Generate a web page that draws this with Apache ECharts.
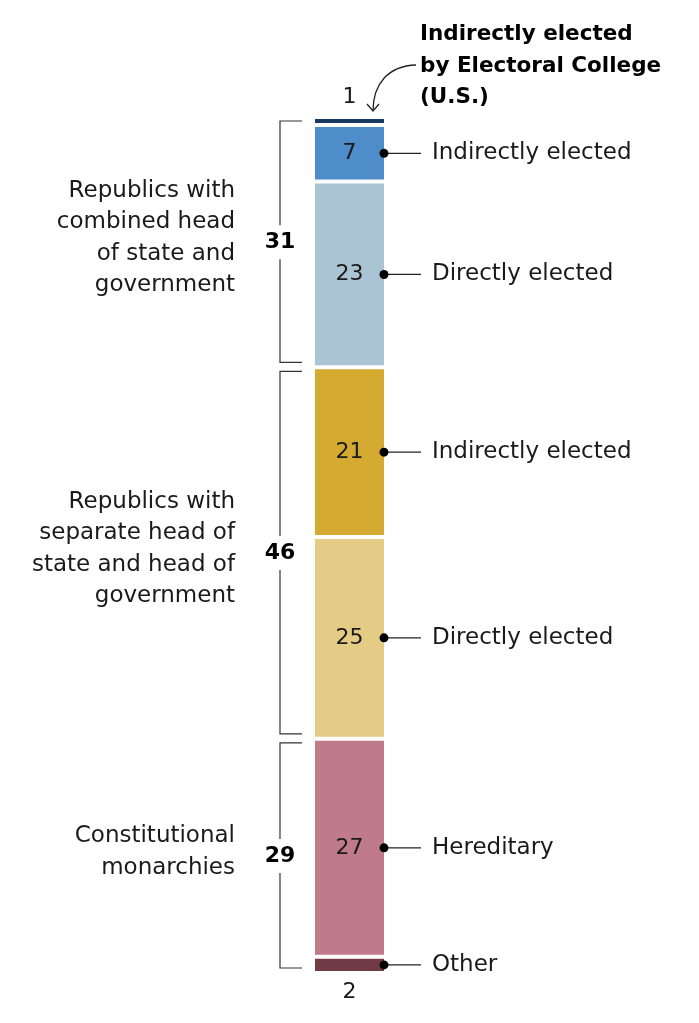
<!DOCTYPE html>
<html>
<head>
<meta charset="utf-8">
<script src="https://cdn.jsdelivr.net/npm/echarts@6/dist/echarts.min.js"></script>
<style>
  html, body { margin: 0; padding: 0; background: #fff; }
  #chart { width: 699px; height: 1023px; }
</style>
</head>
<body>
<div id="chart"></div>
<script>
// segments from top to bottom
var segmentNames = ['Indirectly elected by Electoral College (U.S.)', 'Indirectly elected', 'Directly elected',
  'Indirectly elected', 'Directly elected', 'Hereditary', 'Other'];
var segmentValues = [1, 7, 23, 21, 25, 27, 2];
var segmentColors = ['#173a5f', '#4f8cca', '#abc4d3', '#d4aa30', '#e4cb86', '#bf7b89', '#713b46'];

// groups on the left (how many segments each covers)
var groupNames = ['Republics with\ncombined head\nof state and\ngovernment',
  'Republics with\nseparate head of\nstate and head of\ngovernment',
  'Constitutional\nmonarchies'];
var groupCounts = [3, 2, 2];

var FONT = '"DejaVu Sans", sans-serif';
var TEXT = '#1a1a1a';

var chart = echarts.init(document.getElementById('chart'));

// cumulative positions
var starts = [], ends = [];
var acc = 0;
segmentValues.forEach(function (v) {
  starts.push(acc);
  acc += v;
  ends.push(acc);
});
var total = acc;

var barSeries = segmentValues.map(function (v, i) {
  var pos = 'inside', dist = 5;
  if (i === 0) { pos = 'top'; dist = 9; }
  if (i === segmentValues.length - 1) { pos = 'bottom'; dist = 8; }
  return {
    name: segmentNames[i],
    type: 'bar',
    stack: 'all',
    barWidth: 73,
    data: [v],
    itemStyle: { color: segmentColors[i], borderColor: '#fff', borderWidth: 2 },
    label: {
      show: true,
      position: pos,
      distance: dist,
      color: TEXT,
      fontFamily: FONT,
      fontSize: 22
    },
    silent: true
  };
});

// right side annotations (skip the top one, it has its own callout)
var noteData = [];
for (var i = 1; i < segmentValues.length; i++) {
  noteData.push([0, starts[i], ends[i], i]);
}

var groupData = [];
var k = 0;
groupCounts.forEach(function (c, gi) {
  var s = starts[k], e = ends[k + c - 1];
  groupData.push([0, s, e, gi, e - s]);
  k += c;
});

var option = {
  animation: false,
  grid: { left: 313, right: 313, top: 117, bottom: 50 },
  xAxis: { type: 'category', data: [''], show: false },
  yAxis: { type: 'value', min: 0, max: total, inverse: true, show: false },
  series: barSeries.concat([
    {
      type: 'custom',
      coordinateSystem: 'cartesian2d',
      data: noteData,
      silent: true,
      z: 5,
      renderItem: function (params, api) {
        var a = api.coord([0, api.value(1)]);
        var b = api.coord([0, api.value(2)]);
        var y = (a[1] + b[1]) / 2;
        var x = a[0] + 34.5;
        var idx = api.value(3);
        return {
          type: 'group',
          children: [
            { type: 'line', shape: { x1: x, y1: y, x2: x + 37, y2: y }, style: { stroke: '#222', lineWidth: 1.2 } },
            { type: 'circle', shape: { cx: x, cy: y, r: 4.5 }, style: { fill: '#000' } },
            { type: 'text', style: { text: segmentNames[idx], x: x + 48, y: y, fill: TEXT,
              font: '23px ' + FONT, verticalAlign: 'middle', align: 'left' } }
          ]
        };
      }
    },
    {
      type: 'custom',
      coordinateSystem: 'cartesian2d',
      data: groupData,
      silent: true,
      z: 5,
      renderItem: function (params, api) {
        var a = api.coord([0, api.value(1)]);
        var b = api.coord([0, api.value(2)]);
        var y0 = a[1] + 4, y1 = b[1] - 5;
        var mid = (a[1] + b[1]) / 2;
        var xv = a[0] - 69.5, xh = a[0] - 47.5;
        var gi = api.value(3);
        var st = { stroke: '#333', lineWidth: 1.2, fill: null };
        return {
          type: 'group',
          children: [
            { type: 'polyline', shape: { points: [[xh, y0], [xv, y0], [xv, mid - 17]] }, style: st },
            { type: 'polyline', shape: { points: [[xv, mid + 17], [xv, y1], [xh, y1]] }, style: st },
            { type: 'text', style: { text: String(api.value(4)), x: xv, y: mid, fill: '#000',
              font: 'bold 22px ' + FONT, align: 'center', verticalAlign: 'middle' } },
            { type: 'text', style: { text: groupNames[gi], x: a[0] - 114.5, y: mid - 4, fill: TEXT,
              font: '23px ' + FONT, align: 'right', verticalAlign: 'middle', lineHeight: 31.5 } }
          ]
        };
      }
    }
  ]),
  graphic: [
    {
      type: 'text',
      left: 420,
      top: 19,
      style: {
        text: 'Indirectly elected\nby Electoral College\n(U.S.)',
        font: 'bold 21.5px ' + FONT,
        fill: '#000',
        lineHeight: 31.5
      }
    },
    {
      type: 'bezierCurve',
      shape: { x1: 416, y1: 65, cpx1: 388, cpy1: 66, cpx2: 373, cpy2: 84, x2: 373, y2: 111 },
      style: { stroke: '#222', lineWidth: 1.3, fill: null }
    },
    {
      type: 'polyline',
      shape: { points: [[367, 104], [373, 111], [379, 104]] },
      style: { stroke: '#222', lineWidth: 1.3, fill: null }
    }
  ]
};

chart.setOption(option);
</script>
</body>
</html>
